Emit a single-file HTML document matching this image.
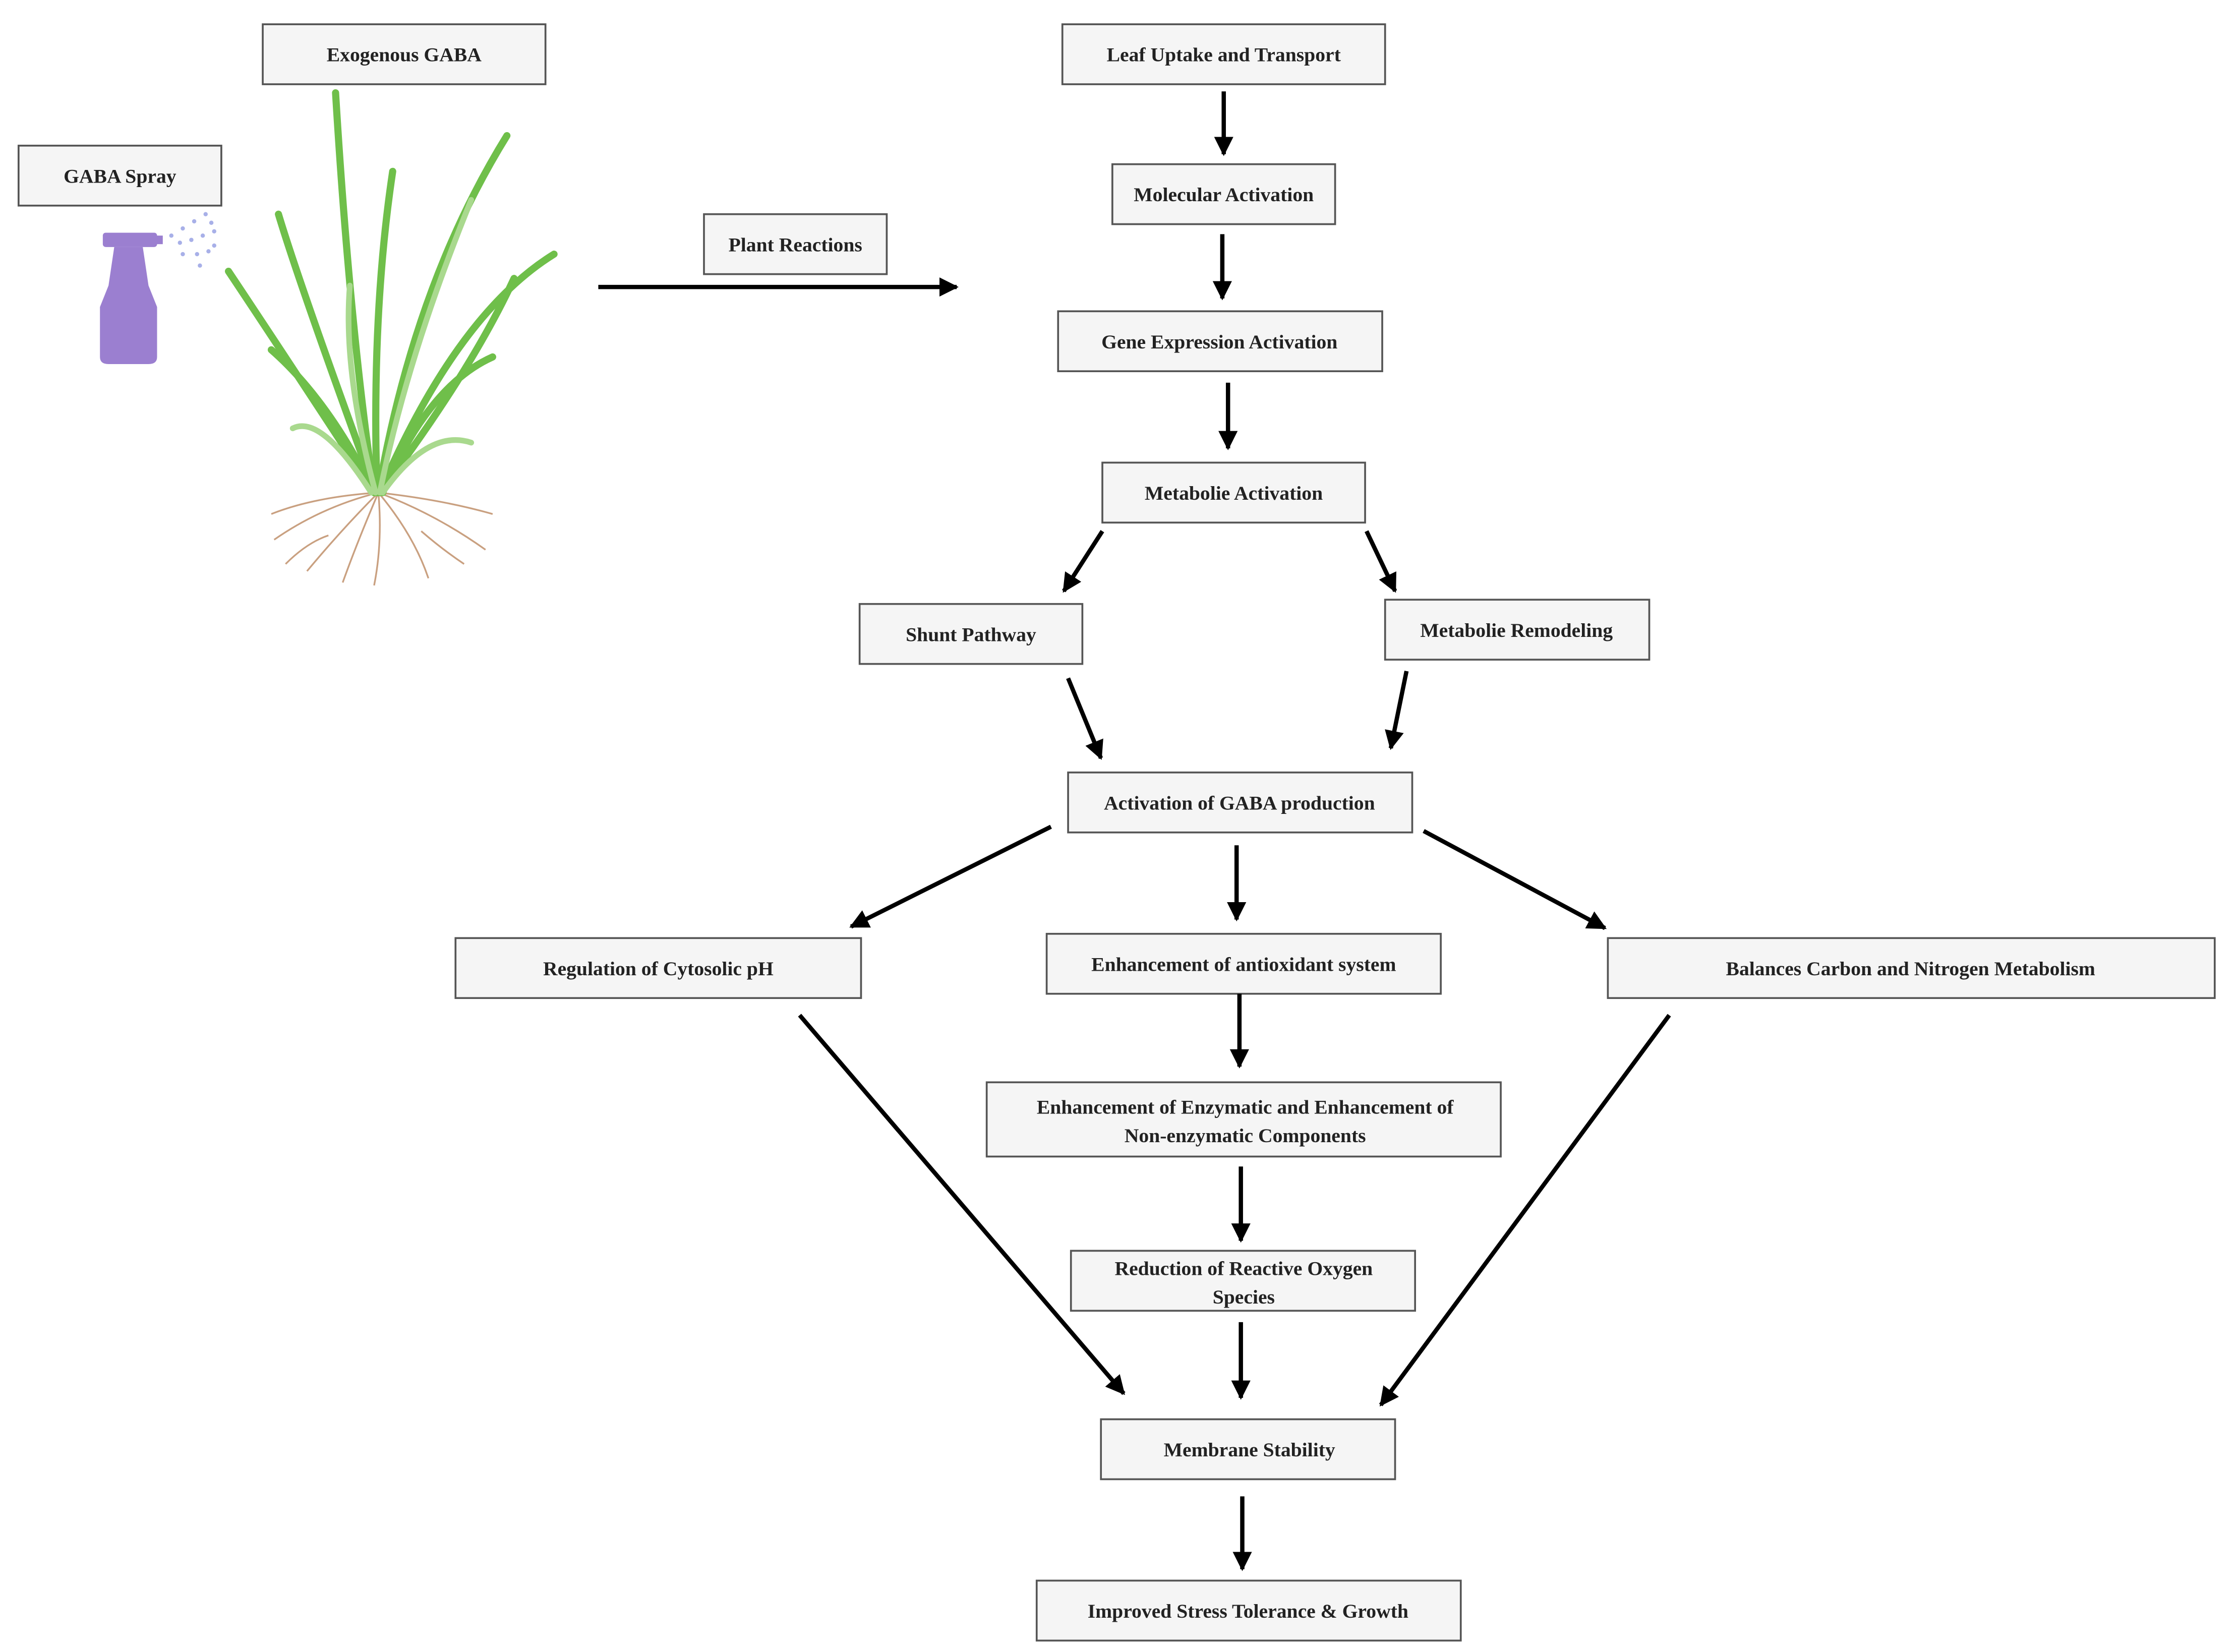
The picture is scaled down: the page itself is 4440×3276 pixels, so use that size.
<!DOCTYPE html>
<html><head><meta charset="utf-8"><style>html,body{margin:0;padding:0;background:#fff}svg{display:block}</style></head>
<body>
<svg width="4440" height="3276" viewBox="0 0 1568 1157" preserveAspectRatio="none" xmlns="http://www.w3.org/2000/svg">
<defs>
<marker id="a" viewBox="0 0 10 10" refX="9" refY="5" markerWidth="4.5" markerHeight="4.5" orient="auto" markerUnits="strokeWidth"><path d="M0,0 L10,5 L0,10 z" fill="#000"/></marker>
</defs>
<rect width="1568" height="1157" fill="#fff"/>
<g fill="#f5f5f5" stroke="#555" stroke-width="1.3">
<rect x="184" y="17" width="198" height="42"/>
<rect x="13" y="102" width="142" height="42"/>
<rect x="744" y="17" width="226" height="42"/>
<rect x="779" y="115" width="156" height="42"/>
<rect x="493" y="150" width="128" height="42"/>
<rect x="741" y="218" width="227" height="42"/>
<rect x="772" y="324" width="184" height="42"/>
<rect x="602" y="423" width="156" height="42"/>
<rect x="970" y="420" width="185" height="42"/>
<rect x="748" y="541" width="241" height="42"/>
<rect x="319" y="657" width="284" height="42"/>
<rect x="733" y="654" width="276" height="42"/>
<rect x="1126" y="657" width="425" height="42"/>
<rect x="691" y="758" width="360" height="52"/>
<rect x="750" y="876" width="241" height="42"/>
<rect x="771" y="994" width="206" height="42"/>
<rect x="726" y="1107" width="297" height="42"/>
</g>
<g font-family="Liberation Serif, serif" font-size="14" font-weight="bold" fill="#222" text-anchor="middle">
<text x="283" y="43">Exogenous GABA</text>
<text x="84" y="128">GABA Spray</text>
<text x="857" y="43">Leaf Uptake and Transport</text>
<text x="857" y="141">Molecular Activation</text>
<text x="557" y="176">Plant Reactions</text>
<text x="854" y="244">Gene Expression Activation</text>
<text x="864" y="350">Metabolie Activation</text>
<text x="680" y="449">Shunt Pathway</text>
<text x="1062" y="446">Metabolie Remodeling</text>
<text x="868" y="567">Activation of GABA production</text>
<text x="461" y="683">Regulation of Cytosolic pH</text>
<text x="871" y="680">Enhancement of antioxidant system</text>
<text x="1338" y="683">Balances Carbon and Nitrogen Metabolism</text>
<text x="872" y="780">Enhancement of Enzymatic and Enhancement of</text>
<text x="872" y="800">Non-enzymatic Components</text>
<text x="871" y="893">Reduction of Reactive Oxygen</text>
<text x="871" y="913">Species</text>
<text x="875" y="1020">Membrane Stability</text>
<text x="874" y="1133">Improved Stress Tolerance &amp; Growth</text>
</g>
<g stroke="#000" stroke-width="3" fill="none" marker-end="url(#a)">
<line x1="419" y1="201" x2="670" y2="201"/>
<line x1="857" y1="64" x2="857" y2="108"/>
<line x1="856" y1="164" x2="856" y2="209"/>
<line x1="860" y1="268" x2="860" y2="314"/>
<line x1="772" y1="372" x2="745" y2="414"/>
<line x1="957" y1="372" x2="977" y2="414"/>
<line x1="748" y1="475" x2="771" y2="531"/>
<line x1="985" y1="470" x2="974" y2="524"/>
<line x1="866" y1="592" x2="866" y2="644"/>
<line x1="736" y1="579" x2="596" y2="649"/>
<line x1="997" y1="582" x2="1124" y2="650"/>
<line x1="868" y1="696" x2="868" y2="747"/>
<line x1="869" y1="817" x2="869" y2="869"/>
<line x1="869" y1="926" x2="869" y2="979"/>
<line x1="560" y1="711" x2="787" y2="976"/>
<line x1="1169" y1="711" x2="967" y2="984"/>
<line x1="870" y1="1048" x2="870" y2="1099"/>
</g>
<g fill="#9b7fd0">
<rect x="72" y="163" width="38" height="10" rx="2"/>
<rect x="100" y="165" width="14" height="6"/>
<path d="M80,173 L100,173 L104,200 L110,215 L110,250 Q110,255 104,255 L76,255 Q70,255 70,250 L70,215 L76,200 Z"/>
</g>
<g fill="#a8b0e8">
<circle cx="120" cy="165" r="1.5"/><circle cx="128" cy="160" r="1.5"/><circle cx="136" cy="155" r="1.5"/><circle cx="144" cy="150" r="1.5"/>
<circle cx="126" cy="170" r="1.5"/><circle cx="134" cy="168" r="1.5"/><circle cx="142" cy="165" r="1.5"/><circle cx="150" cy="162" r="1.5"/>
<circle cx="128" cy="178" r="1.5"/><circle cx="138" cy="178" r="1.5"/><circle cx="146" cy="176" r="1.5"/><circle cx="140" cy="186" r="1.5"/>
<circle cx="148" cy="156" r="1.5"/><circle cx="150" cy="172" r="1.5"/>
</g>
<g stroke="#c9a080" stroke-width="1.2" fill="none">
<path d="M265,345 Q240,370 215,400"/><path d="M265,345 Q250,380 240,408"/><path d="M265,345 Q268,380 262,410"/>
<path d="M265,345 Q290,375 300,405"/><path d="M265,345 Q305,360 340,385"/><path d="M265,345 Q225,355 192,378"/>
<path d="M265,345 Q310,350 345,360"/><path d="M265,345 Q220,348 190,360"/><path d="M230,375 Q215,380 200,395"/><path d="M295,372 Q310,385 325,395"/>
</g>
<g fill="none" stroke-linecap="round">
<g stroke="#6fbf4a" stroke-width="5">
<path d="M262,345 Q245,230 235,65"/><path d="M265,345 Q290,200 355,95"/><path d="M262,345 Q200,250 160,190"/>
<path d="M266,345 Q320,220 388,178"/><path d="M262,345 Q230,280 190,245"/><path d="M268,345 Q300,270 345,250"/>
<path d="M264,345 Q260,220 275,120"/><path d="M263,345 Q210,200 195,150"/><path d="M266,345 Q330,260 360,195"/>
</g>
<g stroke="#a9d98e" stroke-width="4">
<path d="M260,345 Q225,290 205,300"/><path d="M268,345 Q300,300 330,310"/><path d="M263,345 Q240,260 245,200"/><path d="M266,345 Q285,250 330,140"/>
</g>
</g>
</svg>
</body></html>
